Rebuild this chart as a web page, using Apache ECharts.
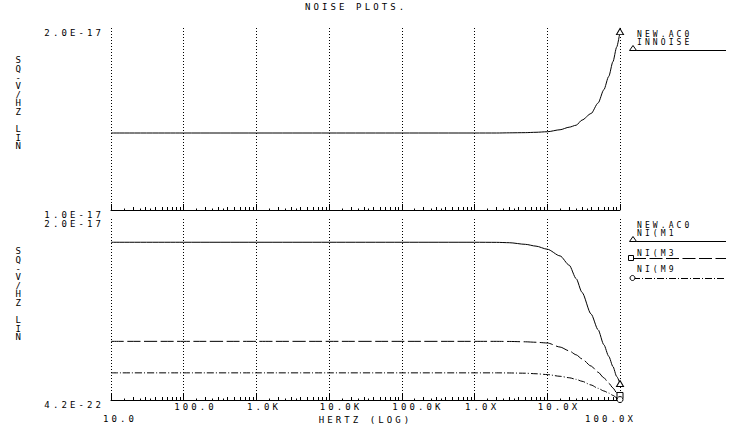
<!DOCTYPE html>
<html>
<head>
<meta charset="utf-8">
<script src="https://cdn.jsdelivr.net/npm/echarts@6/dist/echarts.min.js"></script>
<style>
  html, body { margin: 0; padding: 0; background: #fff; }
  #chart { width: 743px; height: 427px; }
  /* wide plotter-style lettering */
  #chart text { letter-spacing: 3.1px; }
</style>
</head>
<body>
<div id="chart"></div>
<script>
// Frequency sweep (Hz), shared by every trace
const freqs = [10, 100, 1e3, 1e4, 1e5, 1e6, 2e6, 3e6, 5e6, 7e6, 1e7, 1.5e7, 2e7, 2.5e7, 3e7, 4e7, 5e7, 6e7, 7e7, 8e7, 9e7, 1e8];

// Input-referred noise (SQ-V/HZ)
const inNoise = [1.423e-17, 1.423e-17, 1.423e-17, 1.423e-17, 1.423e-17, 1.423e-17, 1.423e-17, 1.424e-17, 1.425e-17, 1.427e-17,
                 1.430e-17, 1.441e-17, 1.455e-17, 1.466e-17, 1.494e-17, 1.530e-17, 1.588e-17, 1.661e-17, 1.734e-17, 1.815e-17,
                 1.895e-17, 1.980e-17];

// Device noise contributions (SQ-V/HZ)
const niM1 = [1.743e-17, 1.743e-17, 1.743e-17, 1.743e-17, 1.743e-17, 1.743e-17, 1.742e-17, 1.738e-17, 1.720e-17, 1.700e-17,
              1.666e-17, 1.592e-17, 1.490e-17, 1.340e-17, 1.190e-17, 0.950e-17, 0.776e-17, 0.610e-17, 0.483e-17, 0.370e-17,
              0.260e-17, 0.182e-17];
const niM3 = [0.648e-17, 0.648e-17, 0.648e-17, 0.648e-17, 0.648e-17, 0.648e-17, 0.648e-17, 0.647e-17, 0.643e-17, 0.638e-17,
              0.630e-17, 0.585e-17, 0.543e-17, 0.499e-17, 0.454e-17, 0.375e-17, 0.307e-17, 0.245e-17, 0.186e-17, 0.133e-17,
              0.080e-17, 0.050e-17];
const niM9 = [0.300e-17, 0.300e-17, 0.300e-17, 0.300e-17, 0.300e-17, 0.300e-17, 0.300e-17, 0.299e-17, 0.296e-17, 0.290e-17,
              0.281e-17, 0.262e-17, 0.246e-17, 0.228e-17, 0.207e-17, 0.166e-17, 0.129e-17, 0.100e-17, 0.077e-17, 0.051e-17,
              0.025e-17, 0.005e-17];

// Axis ranges and tick text
const yTopRange = [1.0e-17, 2.0e-17];
const yBottomRange = [4.2e-22, 2.0e-17];
const xTickLabels = ['10.0', '100.0', '1.0K', '10.0K', '100.0K', '1.0X', '10.0X', '100.0X'];
const decades = [10, 100, 1e3, 1e4, 1e5, 1e6, 1e7];
const minorSteps = [2, 3, 4, 5, 6, 7, 8, 9];
const halfSteps = [1.5, 2.5, 3.5];

const minorTicks = [];
const halfTicks = [];
decades.forEach(d => {
  minorSteps.forEach(s => minorTicks.push(d * s));
  halfSteps.forEach(s => halfTicks.push(d * s));
});

const FONT = '"DejaVu Sans Mono", monospace';
const INK = '#000';

function traceData(vals, symbol, size) {
  const last = freqs.length - 1;
  return freqs.map((f, i) => i === last
    ? { value: [f, vals[i]], symbol: symbol, symbolSize: size }
    : [f, vals[i]]);
}

function xAxisSet(gridIndex, withLabels) {
  const base = { type: 'log', logBase: 10, gridIndex: gridIndex, position: 'bottom', min: 10, max: 1e8, splitNumber: 7 };
  return [
    Object.assign({}, base, {
      axisLine: { show: true, onZero: false, lineStyle: { color: INK, width: 1 } },
      axisTick: { show: true, inside: true, length: 6, lineStyle: { color: INK, width: 1 } },
      splitLine: { show: true, lineStyle: { color: INK, width: 1, type: [1, 2] } },
      axisLabel: withLabels ? {
        show: true, interval: 0, margin: 2, align: 'left', verticalAlign: 'top',
        fontFamily: FONT, fontSize: 9, color: INK,
        formatter: v => {
          const t = xTickLabels[Math.round(Math.log10(v)) - 1];
          if (t === '10.0') return '{first|' + t + '}';
          if (t === '100.0X') return '{last|' + t + '}';
          return '{std|' + t + '}';
        },
        rich: {
          std: { fontFamily: FONT, fontSize: 9, color: INK, padding: [0, 0, 0, -9.5] },
          first: { fontFamily: FONT, fontSize: 9, color: INK, padding: [12.5, 0, 0, -8] },
          last: { fontFamily: FONT, fontSize: 9, color: INK, padding: [12.5, 0, 0, -35] }
        }
      } : { show: false },
      name: withLabels ? 'HERTZ (LOG)' : '',
      nameLocation: 'middle',
      nameGap: 15,
      nameMoveOverlap: false,
      nameTextStyle: { fontFamily: FONT, fontSize: 9, color: INK, verticalAlign: 'top' }
    }),
    Object.assign({}, base, {
      axisLine: { show: false, onZero: false },
      axisTick: { show: true, inside: true, length: 3, customValues: minorTicks, lineStyle: { color: INK, width: 1 } },
      splitLine: { show: false },
      axisLabel: { show: false }
    }),
    Object.assign({}, base, {
      axisLine: { show: false, onZero: false },
      axisTick: { show: true, inside: true, length: 1.5, customValues: halfTicks, lineStyle: { color: INK, width: 1 } },
      splitLine: { show: false },
      axisLabel: { show: false }
    })
  ];
}

function yAxisOf(gridIndex, range) {
  return {
    type: 'value', gridIndex: gridIndex, min: range[0], max: range[1],
    axisLine: { show: false }, axisTick: { show: false }, splitLine: { show: false },
    axisLabel: {
      show: true, customValues: range, margin: 7, align: 'right', verticalAlign: 'top',
      fontFamily: FONT, fontSize: 9, color: INK,
      formatter: v => v.toExponential(1).toUpperCase()
    }
  };
}

const markerStyle = { color: '#fff', borderColor: INK, borderWidth: 1 };

function trace(name, xIdx, yIdx, vals, dash, symbol, size) {
  return {
    name: name, type: 'line', xAxisIndex: xIdx, yAxisIndex: yIdx,
    data: traceData(vals, symbol, size),
    symbol: 'none', smooth: 0.25, smoothMonotone: 'x',
    lineStyle: { color: INK, width: 1, type: dash },
    itemStyle: markerStyle,
    emphasis: { disabled: true },
    animation: false, z: 5
  };
}

const sideLabel = 'S\nQ\n-\nV\n/\nH\nZ\n \nL\nI\nN';
const txtStyle = (text, x, y, lh, size) => ({
  type: 'text', x: x, y: y, silent: true,
  style: { text: text, font: (size || 9) + 'px ' + FONT, fill: INK, align: 'left', verticalAlign: 'top', lineHeight: lh || 8.6 }
});

const option = {
  backgroundColor: '#fff',
  animation: false,
  title: {
    text: 'NOISE PLOTS.', left: 305, top: 2, padding: 0,
    textStyle: { fontFamily: FONT, fontSize: 9, fontWeight: 'normal', color: INK }
  },
  grid: [
    { left: 111, top: 28, width: 509, height: 182, outerBoundsMode: 'none', containLabel: false },
    { left: 111, top: 219, width: 509, height: 181, outerBoundsMode: 'none', containLabel: false }
  ],
  xAxis: xAxisSet(0, false).concat(xAxisSet(1, true)),
  yAxis: [yAxisOf(0, yTopRange), yAxisOf(1, yBottomRange)],
  series: [
    trace('INNOISE', 0, 0, inNoise, 'solid', 'triangle', [7, 6]),
    trace('NI(M1', 3, 1, niM1, 'solid', 'triangle', [7, 6]),
    trace('NI(M3', 3, 1, niM3, [13, 3.5], 'rect', 6),
    trace('NI(M9', 3, 1, niM9, [7, 2, 1, 2], 'circle', 6)
  ],
  graphic: [
    txtStyle(sideLabel, 15.5, 56),
    txtStyle(sideLabel, 15.5, 247),
    // upper legend
    txtStyle('NEW.AC0', 637, 30, 8, 8),
    txtStyle('INNOISE', 637, 38, 8, 8),
    { type: 'line', silent: true, shape: { x1: 633, y1: 50.5, x2: 726, y2: 50.5 }, style: { stroke: INK, lineWidth: 1 } },
    { type: 'polygon', silent: true, shape: { points: [[633, 45.5], [629.5, 50.5], [636.5, 50.5]] }, style: { fill: '#fff', stroke: INK, lineWidth: 1 } },
    // lower legend
    txtStyle('NEW.AC0', 637, 221.5, 8, 8),
    txtStyle('NI(M1', 637, 229.5, 8, 8),
    { type: 'line', silent: true, shape: { x1: 633, y1: 241.5, x2: 726, y2: 241.5 }, style: { stroke: INK, lineWidth: 1 } },
    { type: 'polygon', silent: true, shape: { points: [[633, 236.5], [629.5, 241.5], [636.5, 241.5]] }, style: { fill: '#fff', stroke: INK, lineWidth: 1 } },
    txtStyle('NI(M3', 637, 249.5, 8, 8),
    { type: 'line', silent: true, shape: { x1: 633, y1: 258.5, x2: 726, y2: 258.5 }, style: { stroke: INK, lineWidth: 1, lineDash: [13, 3.5] } },
    { type: 'rect', silent: true, shape: { x: 628.5, y: 255.5, width: 5, height: 5 }, style: { fill: '#fff', stroke: INK, lineWidth: 1 } },
    txtStyle('NI(M9', 637, 265, 8, 8),
    { type: 'line', silent: true, shape: { x1: 633, y1: 278.5, x2: 726, y2: 278.5 }, style: { stroke: INK, lineWidth: 1, lineDash: [7, 2, 1, 2] } },
    { type: 'circle', silent: true, shape: { cx: 632.5, cy: 278, r: 2.5 }, style: { fill: '#fff', stroke: INK, lineWidth: 1 } }
  ]
};

const chart = echarts.init(document.getElementById('chart'), null, { renderer: 'svg' });
chart.setOption(option);
</script>
</body>
</html>
